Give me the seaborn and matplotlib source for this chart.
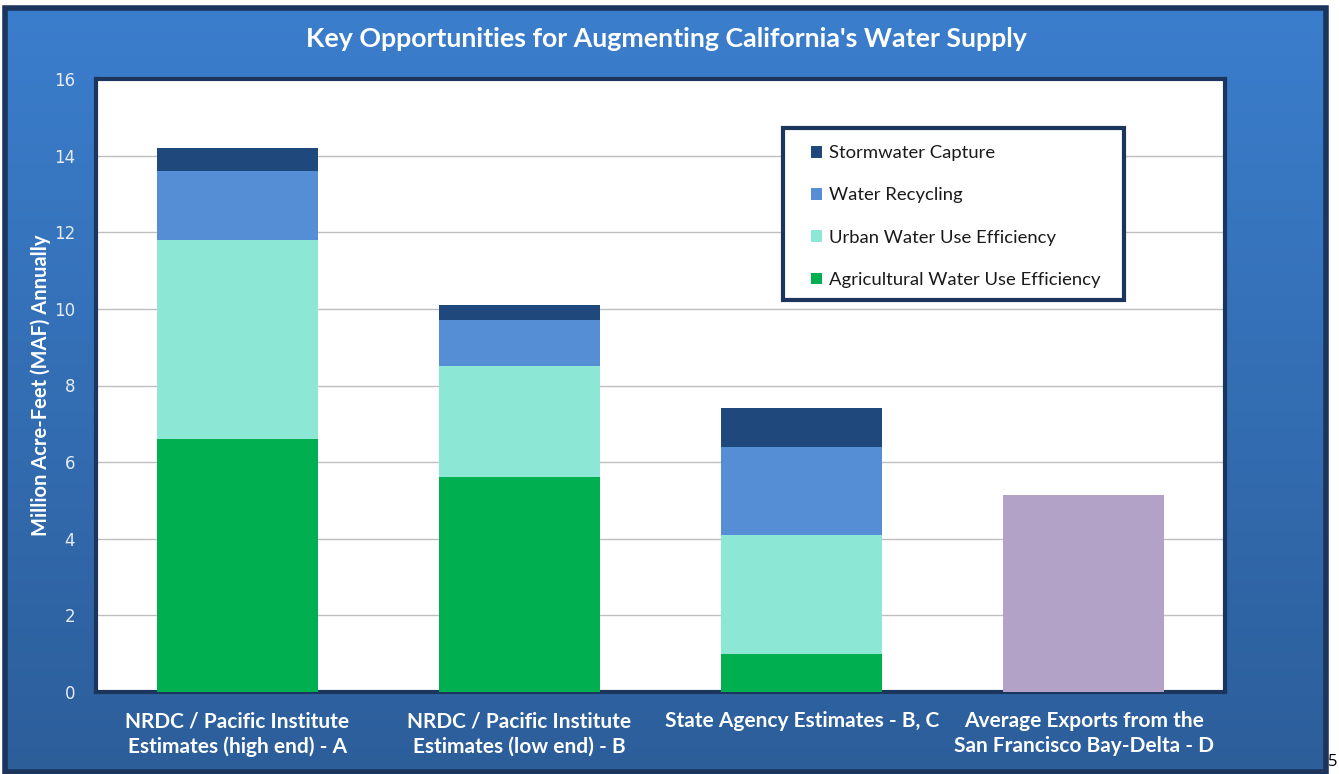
import numpy as np
import pandas as pd
import seaborn as sns
import matplotlib.pyplot as plt
from matplotlib.patches import Patch, Rectangle

# values (million acre-feet per year)
categories = ['NRDC / Pacific Institute\nEstimates (high end) - A',
              'NRDC / Pacific Institute\nEstimates (low end) - B',
              'State Agency Estimates - B, C',
              'Average Exports from the\nSan Francisco Bay-Delta - D']
agricultural = [6.6, 5.6, 1.0, 0.0]
urban = [5.2, 2.9, 3.1, 0.0]
recycling = [1.8, 1.2, 2.3, 0.0]
stormwater = [0.6, 0.4, 1.0, 0.0]
exports = [0.0, 0.0, 0.0, 5.15]
yticks = [0, 2, 4, 6, 8, 10, 12, 14, 16]

series_names = ['Agricultural Water Use Efficiency', 'Urban Water Use Efficiency',
                'Water Recycling', 'Stormwater Capture']
colors = ['#00B050', '#8CE8D5', '#558ED5', '#1F487C']
export_color = '#B3A2C7'
navy = '#1B355C'

sns.set_theme(style='white')
plt.rcParams['font.family'] = ['Lato', 'DejaVu Sans']

fig = plt.figure(figsize=(13.39, 7.74), dpi=100)

# blue gradient backdrop with dark frame
bg = fig.add_axes([0, 0, 1, 1], zorder=-10)
bg.set_xlim(0, 1339)
bg.set_ylim(774, 0)
bg.axis('off')
top_c = np.array([59, 126, 205]) / 255
bot_c = np.array([44, 94, 154]) / 255
t = np.linspace(0, 1, 256)[:, None, None]
grad = top_c * (1 - t) + bot_c * t
grad = np.repeat(grad, 2, axis=1)
bg.imshow(grad, extent=[5, 1326, 772, 8], aspect='auto')
bg.add_patch(Rectangle((5, 8), 1321, 764, fill=False, edgecolor=navy, linewidth=4))
bg.text(1333, 762, '5', ha='center', va='center', fontsize=12, color='black',
        family=['Open Sans', 'DejaVu Sans'])

ax = fig.add_axes([96 / 1339, 82 / 774, 1129 / 1339, 613 / 774])
ax.set_facecolor('white')

stack = [agricultural, urban, recycling, stormwater]
cum = np.cumsum(np.array(stack), axis=0)
df = pd.DataFrame({'category': categories})
# draw cumulative totals from the top down so each layer shows
for i in range(len(stack) - 1, -1, -1):
    df['value'] = cum[i]
    sns.barplot(data=df, x='category', y='value', order=categories, color=colors[i],
                saturation=1, width=0.57, linewidth=0, ax=ax, zorder=3)
df['value'] = exports
sns.barplot(data=df, x='category', y='value', order=categories, color=export_color,
            saturation=1, width=0.57, linewidth=0, ax=ax, zorder=3)

ax.set_ylim(0, 16)
ax.set_xlim(-0.5, 3.5)
ax.set_yticks(yticks)
ax.set_yticklabels([str(v) for v in yticks], fontsize=12, color='#E6ECF5',
                   fontfamily='DejaVu Sans')
ax.yaxis.grid(True, color='#BFBFBF', linewidth=1)
ax.set_axisbelow(True)
for s in ax.spines.values():
    s.set_visible(True)
    s.set_color(navy)
    s.set_linewidth(3)

ax.tick_params(axis='y', length=0, pad=15)
ax.tick_params(axis='x', length=0, pad=14)
ax.set_xticks(range(len(categories)))
ax.set_xticklabels(categories, fontsize=15, fontweight='bold', color='white',
                   linespacing=1.3, va='top')
ax.set_xlabel('')
ax.set_ylabel('Million Acre-Feet (MAF) Annually', fontsize=14.5, fontweight='bold',
              color='white', labelpad=2)

fig.text(666 / 1339, 1 - 39 / 774, "Key Opportunities for Augmenting California's Water Supply",
         ha='center', va='center', fontsize=19.3, fontweight='bold', color='white')

# legend box drawn separately so its padding can match the original
ax.add_patch(Rectangle((0.6085, 0.6395), 0.302, 0.2806, transform=ax.transAxes,
                       facecolor='white', edgecolor=navy, linewidth=3, zorder=9))
handles = [Patch(facecolor=colors[i], edgecolor='none') for i in range(3, -1, -1)]
labels = [series_names[i] for i in range(3, -1, -1)]
leg = ax.legend(handles, labels, loc='upper left', bbox_to_anchor=(0.633, 0.892),
                frameon=False, fontsize=13.3, handlelength=0.6,
                handleheight=0.6, handletextpad=0.4, labelspacing=1.42,
                borderpad=0, borderaxespad=0)
leg.set_zorder(10)
for txt in leg.get_texts():
    txt.set_color('#1a1a1a')

fig.savefig('out.png', dpi=100)
